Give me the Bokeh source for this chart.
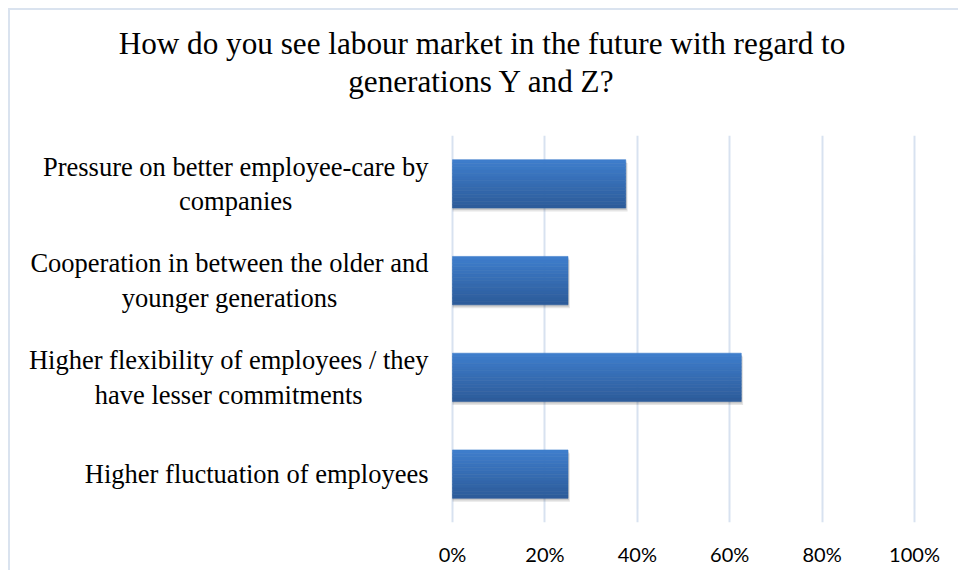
from bokeh.plotting import figure
from bokeh.layouts import column
from bokeh.models import (Range1d, FactorRange, ColumnDataSource,
                          FixedTicker, NumeralTickFormatter)
from bokeh.core.properties import value
from bokeh.transform import dodge
from bokeh.embed import file_html
from bokeh.resources import INLINE

# ---- data (bottom to top, as drawn) ----
categories = [
    "Higher fluctuation of employees",
    "Higher flexibility of employees / they have lesser commitments",
    "Cooperation in between the older and younger generations",
    "Pressure on better employee-care by companies",
]
label_lines = [
    "Higher fluctuation of employees",
    "Higher flexibility of employees / they\nhave lesser commitments",
    "Cooperation in between the older and\nyounger generations",
    "Pressure on better employee-care by\ncompanies",
]
values = [0.25, 0.625, 0.25, 0.375]
x_ticks = [0, 0.2, 0.4, 0.6, 0.8, 1.0]
title_lines = ["How do you see labour market in the future with regard to",
               "generations Y and Z?"]

W = 948
TH = 125

# ---- title panel (screen-like coordinates, y downwards) ----
pt = figure(width=W, height=TH, output_backend="svg", toolbar_location=None,
            x_range=Range1d(0, W), y_range=Range1d(TH, 0),
            min_border_left=0, min_border_right=0, min_border_top=0,
            min_border_bottom=0, title=None)
pt.axis.visible = False
pt.grid.visible = False
pt.outline_line_color = None
pt.border_fill_color = "white"
pt.background_fill_color = "white"
tsrc = ColumnDataSource(dict(x=[471.5, 471.5], y=[32.5, 70.5], t=title_lines))
pt.text(x="x", y="y", text="t", source=tsrc, text_align="center",
        text_baseline="alphabetic", text_font=value("Liberation Serif"),
        text_font_size="31.2px", text_color="#000000")

# ---- main chart ----
p = figure(width=W, height=435, output_backend="svg", toolbar_location=None,
           y_range=FactorRange(factors=categories, range_padding=0, factor_padding=0),
           x_range=Range1d(-0.9567, 1.0952),
           min_border_left=0, min_border_top=0, min_border_right=0,
           min_border_bottom=48, title=None)
p.outline_line_color = None
p.background_fill_color = "white"
p.border_fill_color = "white"

src = ColumnDataSource(dict(cat=categories, val=values, lab=label_lines))

# grid
p.xgrid.ticker = FixedTicker(ticks=x_ticks)
p.xgrid.grid_line_color = "#d8e2f0"
p.xgrid.grid_line_width = 2
p.ygrid.grid_line_color = None

# bar shadow
bh = 0.5
p.hbar(y=dodge("cat", -0.035, range=p.y_range), left=0, right=dodge("val", 0.004),
       height=bh, source=src, fill_color="black", fill_alpha=0.10, line_color=None)
p.hbar(y=dodge("cat", -0.02, range=p.y_range), left=0, right=dodge("val", 0.002),
       height=bh, source=src, fill_color="black", fill_alpha=0.12, line_color=None)

# gradient bars made of strips
top = (62, 125, 203)
bot = (45, 92, 155)
N = 14
for i in range(N):
    t = i / (N - 1)
    c = tuple(int(round(top[k] + (bot[k] - top[k]) * t)) for k in range(3))
    col = "#%02x%02x%02x" % c
    off = bh / 2 - (i + 0.5) * bh / N
    p.hbar(y=dodge("cat", off, range=p.y_range), left=0, right="val",
           height=bh / N, source=src, fill_color=col, line_color=col, line_width=0.6)

# category labels
p.text(x=0, y="cat", text="lab", source=src, x_offset=-24,
       anchor="center_right", text_align="center", text_baseline="middle",
       text_font=value("Liberation Serif"), text_font_size="26.5px",
       text_line_height=1.15, text_color="#000000")

# axes
p.yaxis.visible = False
xa = p.xaxis[0]
xa.ticker = FixedTicker(ticks=x_ticks)
xa.formatter = NumeralTickFormatter(format="0%")
xa.axis_line_color = None
xa.major_tick_line_color = None
xa.minor_tick_line_color = None
xa.major_label_text_font = "Lato"
xa.major_label_text_font_size = "20px"
xa.major_label_text_color = "#000000"
xa.major_label_standoff = 13

layout = column(pt, p, spacing=0,
                styles={"margin-left": "8px", "margin-top": "8px",
                        "border-top": "2px solid #dae3ef",
                        "border-left": "2px solid #dae3ef"})

open("out.html", "w").write(file_html(layout, INLINE))
